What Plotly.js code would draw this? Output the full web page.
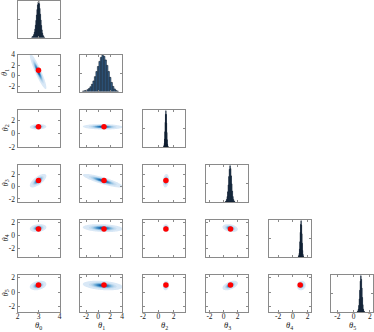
<!DOCTYPE html>
<html>
<head>
<meta charset="utf-8">
<script src="https://cdn.plot.ly/plotly-3.0.1.min.js"></script>
<style>
  html, body { margin: 0; padding: 0; background: #fff; }
  #plot { width: 374px; height: 332px; }
</style>
</head>
<body>
<div id="plot"></div>
<script>
// true parameter values (red dots)
const trueValues = [3, 1, 1, 1, 1, 1];

// axis ranges and ticks
const axisRanges = [[2, 4], [-3, 4], [-2, 3.5], [-2.5, 3.5], [-3.3, 2.4], [-2.8, 2.4]];
const tickValues = [[2, 3, 4], [-2, 0, 2, 4], [-2, 0, 2], [-2, 0, 2], [-2, 0, 2], [-2, 0, 2]];

// marginal histograms: left edge of first bin, bin width, bar heights (normalised)
const histStart = [2.675, -2.6, 0.7, 0.26, 0.75, 0.45];
const histWidth = [0.025, 0.25, 0.04, 0.08, 0.05, 0.06];
const histCounts0 = [0.01, 0.02, 0.03, 0.05, 0.09, 0.15, 0.23, 0.34, 0.47, 0.62, 0.77, 0.9, 0.98, 1.0, 0.93, 0.8, 0.64, 0.48, 0.33, 0.21, 0.12, 0.06, 0.03, 0.01, 0.005];
const histCounts1 = [0.01, 0.02, 0.03, 0.05, 0.08, 0.13, 0.2, 0.29, 0.41, 0.55, 0.69, 0.83, 0.94, 1.0, 0.97, 0.87, 0.72, 0.55, 0.39, 0.25, 0.14, 0.07, 0.03, 0.01];
const histCounts2 = [0.01, 0.04, 0.1, 0.22, 0.42, 0.68, 0.9, 1.0, 0.9, 0.66, 0.4, 0.2, 0.08, 0.03, 0.01];
const histCounts3 = [0.01, 0.03, 0.07, 0.15, 0.28, 0.47, 0.7, 0.9, 1.0, 0.92, 0.72, 0.5, 0.3, 0.15, 0.07, 0.03, 0.01];
const histCounts4 = [0.01, 0.04, 0.1, 0.22, 0.42, 0.68, 0.9, 1.0, 0.88, 0.64, 0.38, 0.18, 0.07, 0.02];
const histCounts5 = [0.01, 0.03, 0.08, 0.18, 0.36, 0.6, 0.85, 1.0, 0.9, 0.66, 0.4, 0.2, 0.08, 0.03, 0.01];
const histCounts = [histCounts0, histCounts1, histCounts2, histCounts3, histCounts4, histCounts5];

// 2D posterior shapes: centre, spread and correlation
const postMeans = [2.98, 0.8, 1.0, 0.95, 1.15, 0.92];
const postSpread = [0.13, 1.1, 0.13, 0.36, 0.2, 0.22];
const corrRows = [
    [1, -0.92, 0.1, 0.7, 0.2, 0.3],
    [-0.92, 1, -0.1, -0.85, -0.2, -0.3],
    [0.1, -0.1, 1, 0.2, 0.0, 0.1],
    [0.7, -0.85, 0.2, 1, -0.3, 0.5],
    [0.2, -0.2, 0.0, -0.3, 1, 0.1],
    [0.3, -0.3, 0.1, 0.5, 0.1, 1]
];

const W = 374, H = 332;
const colLeft = [17.5, 80, 143, 206, 268.5, 331];
const rowTop = [0.5, 54.5, 110, 165, 220, 275];
const panelW = 42, panelH = 37;

const font = { family: 'Liberation Serif, DejaVu Serif, serif', size: 7.5, color: '#222' };
const titleFont = { family: 'Liberation Serif, DejaVu Serif, serif', size: 8.5, color: '#222' };

function gaussGrid(i, j) {
    // parameter j on x, parameter i on y
    const xr = axisRanges[j], yr = axisRanges[i];
    const n = 80;
    const xs = [], ys = [], z = [];
    for (let k = 0; k < n; k++) xs.push(xr[0] + (xr[1] - xr[0]) * k / (n - 1));
    for (let k = 0; k < n; k++) ys.push(yr[0] + (yr[1] - yr[0]) * k / (n - 1));
    const r = corrRows[i][j];
    for (let a = 0; a < n; a++) {
        const row = [];
        const dy = (ys[a] - postMeans[i]) / postSpread[i];
        for (let b = 0; b < n; b++) {
            const dx = (xs[b] - postMeans[j]) / postSpread[j];
            const q = (dx * dx - 2 * r * dx * dy + dy * dy) / (1 - r * r);
            row.push(Math.exp(-0.5 * q));
        }
        z.push(row);
    }
    return { xs, ys, z };
}

const traces = [];
const annotations = [];
const layout = {
    width: W, height: H,
    margin: { l: 0, r: 0, t: 0, b: 0 },
    paper_bgcolor: '#fff', plot_bgcolor: '#fff',
    showlegend: false,
    font: font,
    bargap: 0,
    annotations: annotations
};

const blues = [
    [0, 'rgba(255,255,255,0)'], [0.008, 'rgba(255,255,255,0)'],
    [0.01, '#e6f0fa'], [0.15, '#d2e4f4'], [0.35, '#a9cde8'],
    [0.6, '#5fa3d3'], [0.8, '#2d7bbb'], [1, '#0b4a8a']
];

let n = 0;
for (let i = 0; i < 6; i++) {
    for (let j = 0; j <= i; j++) {
        n++;
        const xa = n === 1 ? 'x' : 'x' + n;
        const ya = n === 1 ? 'y' : 'y' + n;
        const xkey = n === 1 ? 'xaxis' : 'xaxis' + n;
        const ykey = n === 1 ? 'yaxis' : 'yaxis' + n;

        const axBase = {
            showline: true, linecolor: '#8a8a8a', linewidth: 1, mirror: 'allticks',
            ticks: 'inside', ticklen: 2, tickcolor: '#8a8a8a',
            showgrid: false, zeroline: false, fixedrange: true,
            tickfont: font
        };

        layout[xkey] = Object.assign({}, axBase, {
            domain: [colLeft[j] / W, (colLeft[j] + panelW) / W],
            anchor: ya,
            range: axisRanges[j],
            tickvals: tickValues[j],
            ticktext: tickValues[j].map(String),
            showticklabels: i === 5,
            ticklabelstandoff: -3
        });
        if (i === 5) {
            annotations.push({
                xref: 'paper', yref: 'paper',
                x: (colLeft[j] + panelW / 2) / W, y: 0,
                text: '<i>θ</i><sub>' + j + '</sub>', showarrow: false,
                font: titleFont, xanchor: 'center', yanchor: 'bottom',
                borderpad: 0
            });
        }

        if (i === j) {
            const centers = histCounts[i].map((c, k) => histStart[i] + histWidth[i] * (k + 0.5));
            traces.push({
                type: 'bar', x: centers, y: histCounts[i], width: histWidth[i],
                xaxis: xa, yaxis: ya,
                marker: { color: '#3d6e9b', line: { color: '#0e1a28', width: 0.6 } },
                hoverinfo: 'skip'
            });
            layout[ykey] = Object.assign({}, axBase, {
                domain: [1 - (rowTop[i] + panelH) / H, 1 - rowTop[i] / H],
                anchor: xa,
                range: [0, 1.02],
                tickvals: [0, 0.5, 1],
                showticklabels: false
            });
        } else {
            const g = gaussGrid(i, j);
            traces.push({
                type: 'contour', x: g.xs, y: g.ys, z: g.z,
                xaxis: xa, yaxis: ya,
                zmin: 0, zmax: 1, colorscale: blues, showscale: false,
                contours: { coloring: 'fill', start: 0.01, end: 0.99, size: 0.1, showlines: false },
                line: { width: 0 },
                hoverinfo: 'skip'
            });
            traces.push({
                type: 'scatter', mode: 'markers',
                x: [trueValues[j]], y: [trueValues[i]],
                xaxis: xa, yaxis: ya,
                marker: { color: '#ff0000', size: 5.5 },
                hoverinfo: 'skip'
            });
            layout[ykey] = Object.assign({}, axBase, {
                domain: [1 - (rowTop[i] + panelH) / H, 1 - rowTop[i] / H],
                anchor: xa,
                range: axisRanges[i],
                tickvals: tickValues[i],
                ticktext: tickValues[i].map(String),
                showticklabels: j === 0
            });
            if (j === 0) {
                annotations.push({
                    xref: 'paper', yref: 'paper',
                    x: 5 / W, y: 1 - (rowTop[i] + panelH / 2) / H,
                    text: '<i>θ</i><sub>' + i + '</sub>', showarrow: false, textangle: -90,
                    font: titleFont, xanchor: 'center', yanchor: 'middle',
                    borderpad: 0
                });
            }
        }
    }
}

Plotly.newPlot('plot', traces, layout, { staticPlot: true, displayModeBar: false });
</script>
</body>
</html>
